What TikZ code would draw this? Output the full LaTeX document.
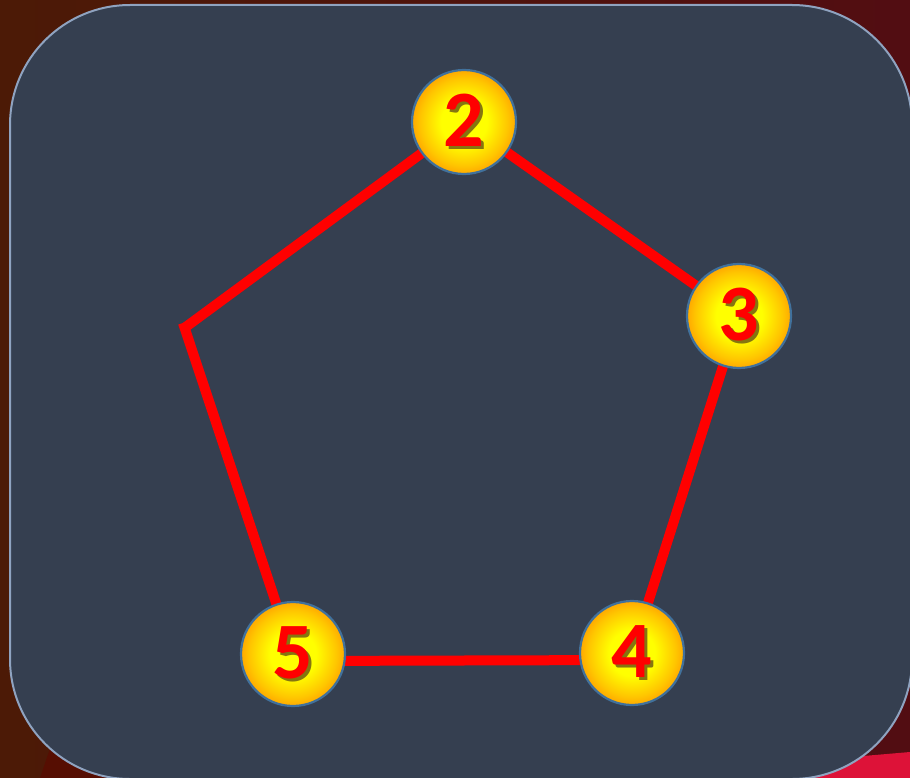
\documentclass[tikz,border=0pt]{standalone}
\usepackage{fontspec}
\setmainfont{Carlito}
\usetikzlibrary{shadings}
\definecolor{bgleft}{HTML}{4C1A06}
\definecolor{bgright}{HTML}{520D12}
\definecolor{bgdark}{HTML}{560E02}
\definecolor{crim}{HTML}{DD1238}
\definecolor{panel}{HTML}{353F50}
\definecolor{panelborder}{HTML}{8FA3C0}
\definecolor{ringblue}{HTML}{41719C}
\definecolor{edgered}{HTML}{FF0000}
\definecolor{shadowcol}{HTML}{857510}
\pgfdeclareradialshading{ball}{\pgfpoint{0bp}{0bp}}{%
  color(0bp)=(yellow);
  color(11bp)=(yellow);
  color(21bp)=(orange!45!yellow);
  color(28bp)=(orange!85!yellow);
  color(33bp)=(orange!70!red);
  color(36bp)=(orange!55!red);
  color(50bp)=(orange!55!red)}
\newcommand{\shadowdigit}[1]{\rlap{\hspace{3pt}\raisebox{-3pt}{\textcolor{shadowcol}{#1}}}#1}
\tikzset{
  ball/.style={circle, draw=ringblue, line width=2.2pt, shading=ball,
    minimum size=104pt, inner sep=0pt},
  digit/.style={text=edgered, font=\bfseries\fontsize{80}{80}\selectfont, inner sep=0pt},
  edge/.style={draw=edgered, line width=10pt, line cap=butt}
}
\begin{document}
\begin{tikzpicture}[x=1pt,y=-1pt]
\useasboundingbox (0,0) rectangle (910,778);
% background
\shade[left color=bgleft, right color=bgright] (0,0) rectangle (910,778);
\fill[bgdark] (40,778) -- (70,690) -- (200,778) -- cycle;
\fill[crim] (770,764) -- (910,752) -- (910,778) -- (770,778) -- cycle;
% panel
\draw[fill=panel, draw=panelborder, line width=2pt, rounded corners=120pt]
  (10,5) rectangle (912,779);
% positions
\coordinate (n1) at (183,326);
\coordinate (c2) at (464,122);
\coordinate (c3) at (739,316);
\coordinate (c4) at (632,653);
\coordinate (c5) at (293,654);
% edges
\draw[edge] ([yshift=-3pt]n1) -- (c2);
\draw[edge] ([yshift=3pt]n1) -- (c5);
\draw[edge] ([yshift=-7pt]c5) -- ([yshift=-7pt]c4);
\draw[edge] (c4) -- (c3);
\draw[edge] (c3) -- (c2);
% nodes
\foreach \n/\p in {2/c2,3/c3,4/c4,5/c5}{
  \node[ball] (b\n) at (\p) {};
  \node[digit] (t\n) at (\p) {\shadowdigit{\n}};
}
\end{tikzpicture}
\end{document}
